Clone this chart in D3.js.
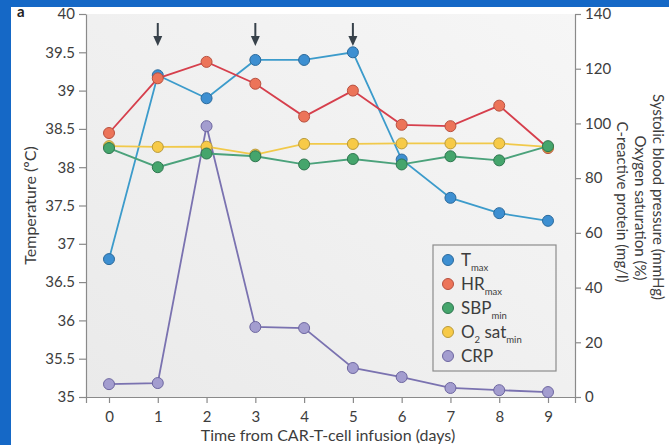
<!DOCTYPE html>
<html>
<head>
<meta charset="utf-8">
<script src="https://cdn.jsdelivr.net/npm/d3@7"></script>
<style>
  body { margin: 0; background: #fff; }
  svg { display: block; font-family: Lato, "Open Sans", sans-serif; }
</style>
</head>
<body>
<svg id="chart"></svg>
<script>
// Data
const days = [0, 1, 2, 3, 4, 5, 6, 7, 8, 9];
const tMax = [36.8, 39.2, 38.9, 39.4, 39.4, 39.5, 38.1, 37.6, 37.4, 37.3];       // °C (left axis)
const hrMax = [96.5, 116.5, 122.5, 114.5, 102.5, 112, 99.5, 99, 106.5, 91];      // right axis
const sbpMin = [91, 84, 89, 88, 85, 87, 85, 88, 86.5, 91.7];                     // right axis
const o2SatMin = [91.7, 91.4, 91.5, 88.6, 92.5, 92.5, 92.7, 92.7, 92.7, 91.4];   // right axis
const crp = [4.7, 5.1, 99, 25.6, 25.2, 10.6, 7.3, 3.3, 2.5, 1.8];               // right axis
const arrowDays = [1, 3, 5];
const leftTicks = [35, 35.5, 36, 36.5, 37, 37.5, 38, 38.5, 39, 39.5, 40];
const rightTicks = [0, 20, 40, 60, 80, 100, 120, 140];

const W = 669, H = 445;
const plot = { left: 86, right: 575, top: 14, bottom: 397 };

const svg = d3.select("#chart").attr("width", W).attr("height", H);

// blue frame (top + left edge)
svg.append("rect").attr("x", 0).attr("y", 0).attr("width", W).attr("height", 7).attr("fill", "#1568c6");
svg.append("rect").attr("x", 0).attr("y", 0).attr("width", 11).attr("height", H).attr("fill", "#1568c6");

// plot background
const defs = svg.append("defs");
const grad = defs.append("linearGradient").attr("id", "bg")
    .attr("x1", "0%").attr("y1", "100%").attr("x2", "100%").attr("y2", "0%");
grad.append("stop").attr("offset", "0%").attr("stop-color", "#eaeaea");
grad.append("stop").attr("offset", "100%").attr("stop-color", "#f6f6f6");
svg.append("rect")
    .attr("x", plot.left).attr("y", plot.top)
    .attr("width", plot.right - plot.left).attr("height", plot.bottom - plot.top)
    .attr("fill", "url(#bg)");

// scales
const x = d3.scaleLinear().domain([0, 9]).range([109, 548]);
const xAxisScale = d3.scaleLinear().domain([x.invert(plot.left), x.invert(plot.right)]).range([plot.left, plot.right]);
const yT = d3.scaleLinear().domain([35, 40]).range([plot.bottom, plot.top]);
const yR = d3.scaleLinear().domain([0, 140]).range([plot.bottom, plot.top]);

const axisColor = "#8a8a8a", textColor = "#3d3d3d";

function styleAxis(g) {
    g.selectAll("path, line").attr("stroke", axisColor).attr("stroke-width", 1.2);
    g.selectAll("text").attr("fill", textColor).style("font-family", "Lato, sans-serif");
}

svg.append("g")
    .attr("transform", `translate(0,${plot.bottom})`)
    .call(d3.axisBottom(xAxisScale).tickValues(days).tickSize(6).tickSizeOuter(6).tickPadding(8))
    .call(styleAxis)
    .selectAll("text").style("font-size", "15px");

svg.append("g")
    .attr("transform", `translate(${plot.left},0)`)
    .call(d3.axisLeft(yT).tickValues(leftTicks).tickFormat(d3.format("~")).tickSize(7).tickSizeOuter(0).tickPadding(4))
    .call(styleAxis)
    .selectAll("text").style("font-size", "15px");

svg.append("g")
    .attr("transform", `translate(${plot.right},0)`)
    .call(d3.axisRight(yR).tickValues(rightTicks).tickSize(6).tickSizeOuter(0).tickPadding(4))
    .call(styleAxis)
    .selectAll("text").style("font-size", "15px");

// axis titles
svg.append("text")
    .attr("transform", `translate(29,${(plot.top + plot.bottom) / 2}) rotate(-90)`)
    .attr("text-anchor", "middle").attr("dominant-baseline", "central")
    .attr("fill", textColor).style("font-size", "16px")
    .text("Temperature (ºC)");

svg.append("text")
    .attr("x", 328).attr("y", 441)
    .attr("text-anchor", "middle")
    .attr("fill", textColor).style("font-size", "16px")
    .text("Time from CAR-T-cell infusion (days)");

const rightTitles = [
    { text: "Systolic blood pressure (mmHg)", x: 659, y: 197 },
    { text: "Oxygen saturation (%)", x: 641, y: 208 },
    { text: "C-reactive protein (mg/l)", x: 623, y: 202 }
];
svg.selectAll(".rtitle").data(rightTitles).enter().append("text")
    .attr("class", "rtitle")
    .attr("transform", d => `translate(${d.x},${d.y}) rotate(90)`)
    .attr("text-anchor", "middle").attr("dominant-baseline", "central")
    .attr("fill", textColor).style("font-size", "15px")
    .text(d => d.text);

// panel label
svg.append("text").attr("x", 17).attr("y", 17)
    .attr("fill", "#222").style("font-size", "15px").style("font-weight", "bold")
    .text("a");

// series
const series = [
    { key: "crp", values: crp, y: yR, line: "#7a72b0", fill: "#a39dcf", stroke: "#6d66a0" },
    { key: "tmax", values: tMax, y: yT, line: "#3c9bcb", fill: "#3d8fd1", stroke: "#2b6a9c" },
    { key: "hr", values: hrMax, y: yR, line: "#d63f4c", fill: "#ec7459", stroke: "#b8503f" },
    { key: "o2", values: o2SatMin, y: yR, line: "#f1c94a", fill: "#f7ca47", stroke: "#b99a3a" },
    { key: "sbp", values: sbpMin, y: yR, line: "#4ba27b", fill: "#45a56c", stroke: "#2f7650" }
];

const groups = svg.selectAll(".series").data(series).enter().append("g").attr("class", "series");

groups.append("path")
    .attr("fill", "none")
    .attr("stroke", d => d.line)
    .attr("stroke-width", 1.8)
    .attr("d", s => d3.line().x((v, i) => x(days[i])).y(v => s.y(v))(s.values));

groups.selectAll("circle")
    .data(s => s.values.map((v, i) => ({ day: days[i], v, s })))
    .enter().append("circle")
    .attr("cx", d => x(d.day))
    .attr("cy", d => d.s.y(d.v))
    .attr("r", 5.5)
    .attr("fill", d => d.s.fill)
    .attr("stroke", d => d.s.stroke)
    .attr("stroke-width", 1);

// arrows marking days
const arrows = svg.selectAll(".arrow").data(arrowDays).enter().append("g").attr("class", "arrow");
arrows.append("line")
    .attr("x1", d => x(d)).attr("x2", d => x(d))
    .attr("y1", 23).attr("y2", 38)
    .attr("stroke", "#37414a").attr("stroke-width", 2);
arrows.append("path")
    .attr("d", d => `M${x(d) - 4.5},36 L${x(d) + 4.5},36 L${x(d)},46 Z`)
    .attr("fill", "#37414a");

// legend
const legendItems = [
    { fill: "#3d8fd1", stroke: "#2b6a9c", parts: [["T", false], ["max", true]] },
    { fill: "#ec7459", stroke: "#b8503f", parts: [["HR", false], ["max", true]] },
    { fill: "#45a56c", stroke: "#2f7650", parts: [["SBP", false], ["min", true]] },
    { fill: "#f7ca47", stroke: "#b99a3a", parts: [["O", false], ["2", true], [" sat", false], ["min", true]] },
    { fill: "#a39dcf", stroke: "#6d66a0", parts: [["CRP", false]] }
];
const legend = svg.append("g");
legend.append("rect")
    .attr("x", 433).attr("y", 245).attr("width", 123).attr("height", 126)
    .attr("fill", "none").attr("stroke", "#8c8c8c").attr("stroke-width", 1.2);

const li = legend.selectAll(".li").data(legendItems).enter().append("g")
    .attr("transform", (d, i) => `translate(448,${260 + i * 24})`);
li.append("circle").attr("r", 5.5)
    .attr("fill", d => d.fill).attr("stroke", d => d.stroke).attr("stroke-width", 1);
const lt = li.append("text").attr("x", 13).attr("y", 6)
    .attr("fill", textColor).style("font-size", "17px");
lt.each(function (d) {
    const t = d3.select(this);
    d.parts.forEach(([txt, sub], k) => {
        const prevSub = k > 0 && d.parts[k - 1][1];
        const ts = t.append("tspan").text(txt);
        if (sub) ts.attr("dy", 5).style("font-size", "9.5px");
        else if (prevSub) ts.attr("dy", -5);
    });
});
</script>
</body>
</html>
